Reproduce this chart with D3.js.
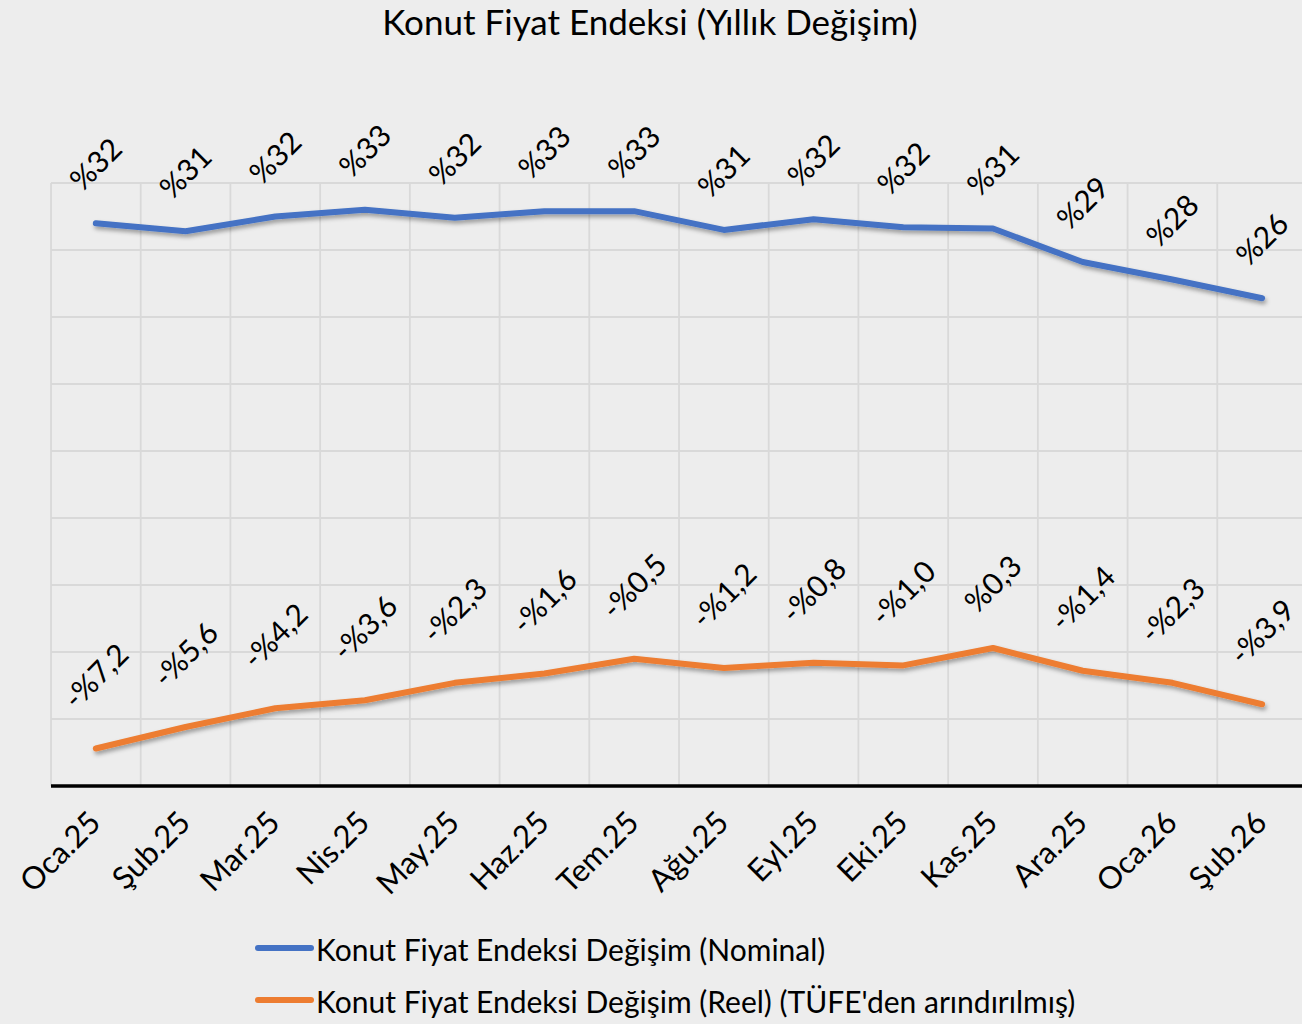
<!DOCTYPE html>
<html><head><meta charset="utf-8">
<script src="https://cdn.jsdelivr.net/npm/d3@7"></script>
<style>
html,body{margin:0;padding:0;background:#ededed;}
svg{display:block;font-family:Lato,"Open Sans",sans-serif;}
</style></head>
<body>
<svg id="chart" width="1302" height="1024"></svg>
<script>
const categories = ["Oca.25","Şub.25","Mar.25","Nis.25","May.25","Haz.25","Tem.25","Ağu.25","Eyl.25","Eki.25","Kas.25","Ara.25","Oca.26","Şub.26"];
const nominalValues = [32.0, 31.4, 32.5, 33.0, 32.4, 32.9, 32.9, 31.5, 32.3, 31.7, 31.6, 29.1, 27.8, 26.4];
const nominalLabels = ["%32","%31","%32","%33","%32","%33","%33","%31","%32","%32","%31","%29","%28","%26"];
const reelValues = [-7.2, -5.6, -4.2, -3.6, -2.3, -1.6, -0.5, -1.2, -0.8, -1.0, 0.3, -1.4, -2.3, -3.9];
const reelLabels = ["-%7,2","-%5,6","-%4,2","-%3,6","-%2,3","-%1,6","-%0,5","-%1,2","-%0,8","-%1,0","%0,3","-%1,4","-%2,3","-%3,9"];
const yTicks = [-10, -5, 0, 5, 10, 15, 20, 25, 30, 35];
const seriesNames = ["Konut Fiyat Endeksi Değişim (Nominal)", "Konut Fiyat Endeksi Değişim (Reel) (TÜFE'den arındırılmış)"];
const title = "Konut Fiyat Endeksi (Yıllık Değişim)";

const svg = d3.select("#chart");
const W = 1302, H = 1024;
const plot = {left: 51, right: 1307, top: 183, bottom: 786};

const x = d3.scaleBand().domain(categories).range([plot.left, plot.right]).padding(0);
const y = d3.scaleLinear().domain([-10, 35]).range([plot.bottom, plot.top]);
const cx = c => x(c) + x.bandwidth() / 2;

const defs = svg.append("defs");
const f = defs.append("filter").attr("id","shadow").attr("x","-10%").attr("y","-50%").attr("width","120%").attr("height","200%");
f.append("feDropShadow").attr("dx",1.5).attr("dy",3).attr("stdDeviation",2).attr("flood-color","#000").attr("flood-opacity",0.35);

// title
svg.append("text").attr("x", 650).attr("y", 35).attr("text-anchor","middle")
  .attr("font-size", 35).attr("fill","#000").text(title);

// horizontal gridlines
svg.append("g").selectAll("line").data(yTicks.filter(t => t !== -10)).join("line")
  .attr("x1", plot.left).attr("x2", W).attr("y1", d => y(d)).attr("y2", d => y(d))
  .attr("stroke","#d9d9d9").attr("stroke-width",1.8);
// vertical gridlines (category boundaries)
const bounds = categories.map(c => x(c));
svg.append("g").selectAll("line").data(bounds).join("line")
  .attr("x1", d => d).attr("x2", d => d).attr("y1", plot.top).attr("y2", plot.bottom)
  .attr("stroke","#d9d9d9").attr("stroke-width",1.8);

// x axis baseline
svg.append("line").attr("x1", plot.left).attr("x2", W).attr("y1", plot.bottom).attr("y2", plot.bottom)
  .attr("stroke","#000").attr("stroke-width",3.5);

// x axis labels
svg.append("g").selectAll("text").data(categories).join("text")
  .attr("transform", d => `translate(${cx(d) - 11},${plot.bottom + 21}) rotate(-45)`)
  .attr("text-anchor","end").attr("dominant-baseline","hanging")
  .attr("font-size", 31).attr("fill","#000").text(d => d);

// lines
const line = d3.line().x((d,i) => cx(categories[i])).y(d => y(d));
const series = [
  {vals: nominalValues, labels: nominalLabels, color: "#4472c4"},
  {vals: reelValues, labels: reelLabels, color: "#ed7d31"}
];
series.forEach(s => {
  svg.append("path").datum(s.vals).attr("d", line)
    .attr("fill","none").attr("stroke", s.color).attr("stroke-width",6)
    .attr("stroke-linejoin","round").attr("stroke-linecap","round")
    .attr("filter","url(#shadow)");
});

// data labels
series.forEach(s => {
  const g = svg.append("g");
  s.vals.forEach((v,i) => {
    const t = g.append("text").attr("text-anchor","middle").attr("dominant-baseline","central")
      .attr("font-size", 30).attr("fill","#000").text(s.labels[i]);
    const L = t.node().getComputedTextLength();
    const hb = (L + 22) * Math.SQRT1_2;
    const off = hb * 1.05;
    t.attr("transform", `translate(${cx(categories[i]) - 1},${y(v) - off}) rotate(-45)`);
  });
});

// legend
const leg = svg.append("g");
seriesNames.forEach((n,i) => {
  const yy = 948 + i * 52;
  leg.append("line").attr("x1", 258).attr("x2", 311).attr("y1", yy).attr("y2", yy)
    .attr("stroke", series[i].color).attr("stroke-width",6).attr("stroke-linecap","round");
  leg.append("text").attr("x", 316).attr("y", yy + 1).attr("dominant-baseline","central")
    .attr("font-size", 30).attr("fill","#000").text(n);
});
</script>
</body></html>
